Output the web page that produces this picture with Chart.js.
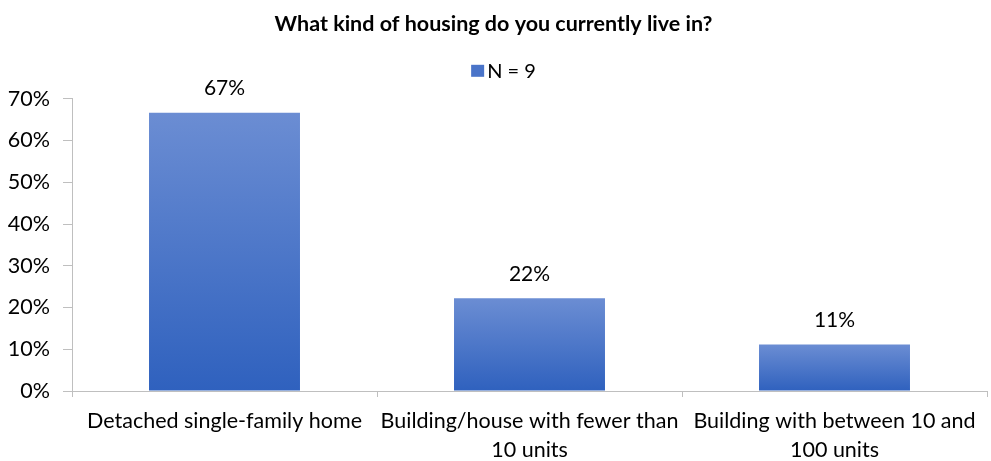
<!DOCTYPE html>
<html>
<head>
<meta charset="utf-8">
<script src="https://cdn.jsdelivr.net/npm/chart.js@4/dist/chart.umd.min.js"></script>
<style>
html,body{margin:0;padding:0;background:#fff;}
#wrap{width:991px;height:461px;}
</style>
</head>
<body>
<div id="wrap"><canvas id="c" width="991" height="461"></canvas></div>
<script>
const titleText = "What kind of housing do you currently live in?";
const seriesName = "N = 9";
const categories = [
  ["Detached single-family home"],
  ["Building/house with fewer than", "10 units"],
  ["Building with between 10 and", "100 units"]
];
const values = [0.6667, 0.2222, 0.1111];
const yTicks = [0, 0.1, 0.2, 0.3, 0.4, 0.5, 0.6, 0.7];

const FONT = "Lato, 'Open Sans', sans-serif";
const TOPC = "#6b8dd3";
const BOTC = "#2f61be";
const LEGEND_COLOR = "#4a74c9";

function barFill(ctx) {
  const chart = ctx.chart;
  if (!chart.chartArea || ctx.type !== 'data') return LEGEND_COLOR;
  const y = chart.scales.y;
  const top = y.getPixelForValue(ctx.parsed.y);
  const bot = y.getPixelForValue(0);
  if (!isFinite(top) || !isFinite(bot) || top === bot) return LEGEND_COLOR;
  const g = chart.ctx.createLinearGradient(0, top, 0, bot);
  g.addColorStop(0, TOPC);
  g.addColorStop(1, BOTC);
  return g;
}

const labelPlugin = {
  id: 'valueLabels',
  afterDatasetsDraw(chart) {
    const ctx = chart.ctx;
    const meta = chart.getDatasetMeta(0);
    ctx.save();
    ctx.font = "21px " + FONT;
    ctx.fillStyle = "#000";
    ctx.textAlign = "center";
    ctx.textBaseline = "middle";
    meta.data.forEach((el, i) => {
      const v = chart.data.datasets[0].data[i];
      ctx.fillText(Math.round(v * 100) + "%", el.x, el.y - 24);
    });
    ctx.restore();
  }
};

// custom legend box placed between title and chart area
const legendBoxPlugin = {
  id: 'legendBox',
  beforeInit(chart) {
    const box = {
      options: { position: 'top', weight: 500, fullSize: true },
      position: 'top', weight: 500, fullSize: true,
      left: 0, top: 0, right: 0, bottom: 0, width: 0, height: 0,
      isHorizontal() { return true; },
      update(maxWidth) { this.width = maxWidth; this.height = 52; return { width: maxWidth, height: 52 }; },
      draw() {
        const ctx = chart.ctx;
        ctx.save();
        ctx.font = "20px " + FONT;
        const tw = ctx.measureText(seriesName).width;
        const sq = 13, gap = 3;
        const total = sq + gap + tw;
        const cx = (this.left + this.right) / 2 + 10;
        const cy = this.bottom - 27;
        const x0 = cx - total / 2;
        ctx.fillStyle = LEGEND_COLOR;
        ctx.fillRect(x0, cy - 7, sq, 12);
        ctx.fillStyle = "#000";
        ctx.textAlign = "left";
        ctx.textBaseline = "middle";
        ctx.fillText(seriesName, x0 + sq + gap, cy);
        ctx.restore();
      }
    };
    Chart.layouts.addBox(chart, box);
  }
};

new Chart(document.getElementById('c'), {
  type: 'bar',
  data: {
    labels: categories,
    datasets: [{
      label: seriesName,
      data: values,
      backgroundColor: barFill,
      borderWidth: 0,
      categoryPercentage: 1,
      barPercentage: 0.495
    }]
  },
  options: {
    responsive: false,
    animation: false,
    devicePixelRatio: 1,
    layout: { padding: { left: 0, right: 4, top: 0, bottom: 0 } },
    plugins: {
      title: {
        display: true,
        text: titleText,
        color: "#000",
        font: { family: FONT, size: 21.5, weight: 'bold' },
        padding: { top: 11, bottom: 10 }
      },
      legend: { display: false },
      tooltip: { enabled: false }
    },
    scales: {
      x: {
        grid: { display: true, drawOnChartArea: false, offset: true, tickLength: 6, color: "#bfbfbf" },
        border: { display: true, color: "#bfbfbf", width: 1 },
        ticks: {
          color: "#000",
          font: { family: FONT, size: 21.5, lineHeight: 1.36 },
          padding: 9,
          maxRotation: 0,
          autoSkip: false
        },
        afterFit(scale) { scale.height = 70; }
      },
      y: {
        min: 0,
        max: 0.7,
        afterBuildTicks(scale) { scale.ticks = yTicks.map(v => ({ value: v })); },
        grid: { display: true, drawOnChartArea: false, tickLength: 9, color: "#bfbfbf" },
        border: { display: true, color: "#bfbfbf", width: 1 },
        ticks: {
          color: "#000",
          font: { family: FONT, size: 21.5 },
          padding: 13,
          callback: v => Math.round(v * 100) + "%"
        },
        afterFit(scale) { scale.width = 72; }
      }
    }
  },
  plugins: [labelPlugin, legendBoxPlugin]
});
</script>
</body>
</html>
